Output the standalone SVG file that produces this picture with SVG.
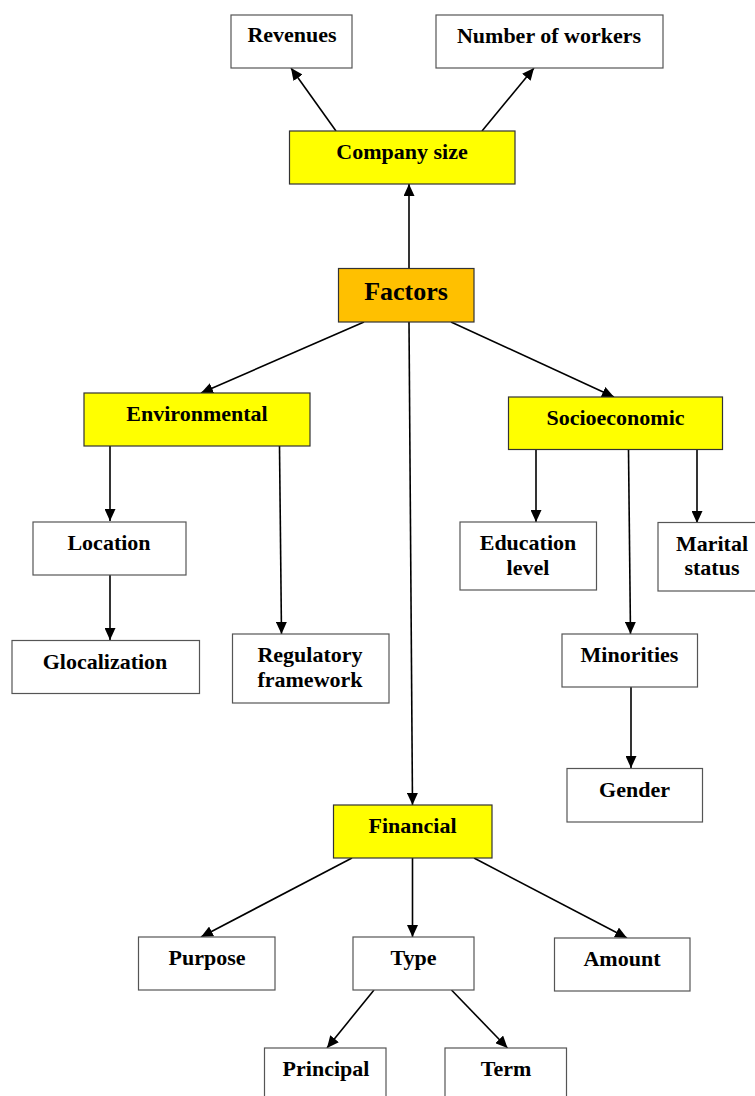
<svg xmlns="http://www.w3.org/2000/svg" width="755" height="1096" viewBox="0 0 755 1096">
<style>
.box{fill:#ffffff;stroke:#555555;stroke-width:1.2}
.yel{fill:#ffff00;stroke:#333333;stroke-width:1.2}
.org{fill:#ffc000;stroke:#333333;stroke-width:1.2}
text{font-family:"Liberation Serif","Times New Roman",serif;font-weight:bold;font-size:22px;fill:#000;text-anchor:middle}
.big{font-size:26px}
.c{stroke:#000;stroke-width:1.6;fill:none;marker-end:url(#ah)}
</style>
<defs>
<marker id="ah" markerUnits="userSpaceOnUse" markerWidth="12" markerHeight="11" refX="12" refY="5.5" orient="auto">
<path d="M0,0 L12,5.5 L0,11 z" fill="#000"/>
</marker>
</defs>
<g id="connectors">
<line class="c" x1="336" y1="131" x2="291" y2="68"/>
<line class="c" x1="482" y1="131" x2="534" y2="68"/>
<line class="c" x1="409" y1="269" x2="409" y2="184"/>
<line class="c" x1="364" y1="322" x2="201" y2="393"/>
<line class="c" x1="451" y1="322" x2="614" y2="397"/>
<line class="c" x1="409" y1="322" x2="412.5" y2="805"/>
<line class="c" x1="110" y1="446" x2="110" y2="521"/>
<line class="c" x1="110" y1="575" x2="110" y2="640"/>
<line class="c" x1="279.5" y1="446" x2="281.5" y2="634"/>
<line class="c" x1="536" y1="450" x2="536" y2="522"/>
<line class="c" x1="628.5" y1="450" x2="630.5" y2="634"/>
<line class="c" x1="697" y1="450" x2="697" y2="523"/>
<line class="c" x1="631" y1="687" x2="631" y2="768"/>
<line class="c" x1="352" y1="858" x2="201" y2="937"/>
<line class="c" x1="412.5" y1="858" x2="412.5" y2="937"/>
<line class="c" x1="474" y1="858" x2="627" y2="938"/>
<line class="c" x1="374" y1="990" x2="327" y2="1048"/>
<line class="c" x1="451.5" y1="990" x2="507.5" y2="1048"/>
</g>
<g id="revenues"><rect class="box" x="231" y="15" width="121" height="53"/><text x="292" y="42">Revenues</text></g>
<g id="workers"><rect class="box" x="436" y="15" width="227" height="53"/><text x="549" y="43">Number of workers</text></g>
<g id="company-size"><rect class="yel" x="289.5" y="131" width="225.5" height="53"/><text x="402" y="159">Company size</text></g>
<g id="factors"><rect class="org" x="338.5" y="268.5" width="135.5" height="53.5"/><text class="big" x="406" y="299.5">Factors</text></g>
<g id="environmental"><rect class="yel" x="84" y="393" width="226" height="53"/><text x="197" y="421">Environmental</text></g>
<g id="socioeconomic"><rect class="yel" x="508.5" y="397" width="214" height="52.5"/><text x="615.5" y="424.5">Socioeconomic</text></g>
<g id="location"><rect class="box" x="33" y="522" width="153" height="53"/><text x="109" y="550">Location</text></g>
<g id="glocalization"><rect class="box" x="12" y="640.5" width="187.5" height="53"/><text x="105" y="668.5">Glocalization</text></g>
<g id="regulatory"><rect class="box" x="232.5" y="634" width="156.5" height="69"/><text x="310" y="662">Regulatory</text><text x="310" y="687">framework</text></g>
<g id="education"><rect class="box" x="460" y="522" width="136.5" height="68"/><text x="528" y="550">Education</text><text x="528" y="575">level</text></g>
<g id="marital"><rect class="box" x="658" y="522.5" width="110" height="68.5"/><text x="712" y="551">Marital</text><text x="712" y="575">status</text></g>
<g id="minorities"><rect class="box" x="562" y="634" width="135.5" height="53"/><text x="629.5" y="662">Minorities</text></g>
<g id="gender"><rect class="box" x="567" y="768.5" width="135.5" height="53.5"/><text x="634.5" y="797">Gender</text></g>
<g id="financial"><rect class="yel" x="333.5" y="805" width="158.5" height="53"/><text x="412.5" y="833">Financial</text></g>
<g id="purpose"><rect class="box" x="138.5" y="937" width="136.5" height="53"/><text x="207" y="965">Purpose</text></g>
<g id="type"><rect class="box" x="353" y="937" width="121" height="53"/><text x="413.5" y="965">Type</text></g>
<g id="amount"><rect class="box" x="554.5" y="938" width="135.5" height="53"/><text x="622" y="966">Amount</text></g>
<g id="principal"><rect class="box" x="264.5" y="1048" width="121.5" height="60"/><text x="326" y="1076">Principal</text></g>
<g id="term"><rect class="box" x="445" y="1048" width="121.5" height="60"/><text x="506" y="1076">Term</text></g>
</svg>
